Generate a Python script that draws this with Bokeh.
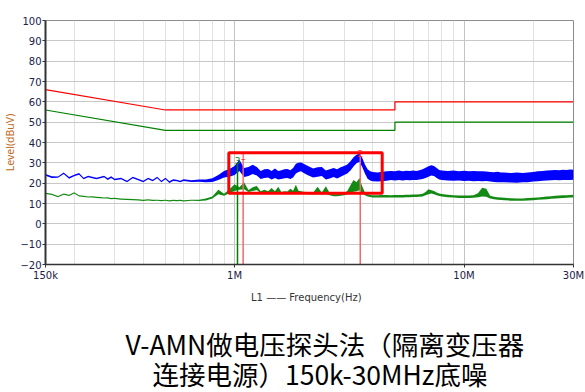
from bokeh.plotting import figure
from bokeh.models import FixedTicker, Title
from bokeh.embed import file_html
from bokeh.resources import INLINE
from bokeh.core.properties import value

# ---------------- data ----------------
freq_mhz = [0.15, 0.16, 0.17, 0.18, 0.19, 0.20, 0.21, 0.22, 0.23, 0.24, 0.25, 0.26, 0.27, 0.28, 0.29, 0.30,
            0.32, 0.34, 0.36, 0.38, 0.40, 0.42, 0.44, 0.46, 0.48, 0.50, 0.52, 0.54, 0.56, 0.58, 0.60,
            0.65, 0.70, 0.75, 0.80, 0.85, 0.90, 0.95,
            1.00, 1.05, 1.10, 1.15, 1.20, 1.25, 1.30, 1.35, 1.40, 1.45, 1.50, 1.55, 1.60, 1.65, 1.70, 1.75,
            1.80, 1.85, 1.90, 1.95, 2.00,
            2.1, 2.2, 2.3, 2.4, 2.5, 2.6, 2.7, 2.8, 2.9, 3.0, 3.1, 3.2, 3.3, 3.4, 3.5, 3.6, 3.7, 3.8, 3.9, 4.0,
            4.2, 4.4, 4.6, 4.8, 5.0, 5.2, 5.4, 5.6, 5.8, 6.0, 6.2, 6.4, 6.6, 6.8, 7.0, 7.2, 7.4, 7.6, 7.8, 8.0,
            8.5, 9.0, 9.5, 10, 10.5, 11, 11.5, 12, 12.5, 13, 13.5, 14, 14.5, 15,
            16, 17, 18, 19, 20, 21, 22, 23, 24, 25, 26, 27, 28, 29, 30]

blue_lo = [23.7, 22.6, 22.7, 24.5, 22.2, 23.4, 24.2, 21.9, 22.9, 22.4, 21.9, 22.4, 22.9, 21.6, 22.6, 21.4,
           21.9, 20.4, 22.4, 21.4, 20.4, 21.9, 20.9, 22.4, 20.4, 21.9, 20.1, 21.1, 20.9, 20.4, 21.1,
           20.6, 20.7, 20.4, 20.6, 21.5, 22.8, 23.2,
           24.0, 26.0, 23.0, 23.5, 24.5, 23.8, 22.0, 22.5, 22.8, 21.8, 22.6, 21.8, 22.0, 22.4, 22.6, 22.0,
           22.8, 24.8, 25.5, 25.8, 25.0,
           23.8, 22.8, 23.2, 23.5, 21.8, 22.3, 23.0, 22.3, 23.2, 24.0, 24.8, 26.2, 28.2, 29.8, 30.5, 28.0, 24.8, 22.2, 21.3, 21.0,
           20.8, 21.0, 21.2, 21.5, 21.3, 21.5, 21.3, 21.6, 21.4, 21.6, 21.5, 21.8, 22.0, 22.6, 23.2, 23.8, 23.5, 22.6, 21.8, 21.5,
           21.3, 21.2, 21.3, 21.1, 21.2, 21.0, 21.1, 21.0, 21.1, 20.8, 20.6, 20.5, 20.4, 20.5,
           20.3, 20.2, 20.4, 20.5, 20.8, 21.0, 21.2, 21.3, 21.4, 21.5, 21.4, 21.6, 21.5, 21.6, 21.7]

blue_hi = [24.5, 23.4, 23.3, 25.3, 23.0, 24.2, 25.0, 22.7, 23.7, 23.2, 22.7, 23.2, 23.7, 22.4, 23.4, 22.2,
           22.7, 21.2, 23.2, 22.2, 21.2, 22.7, 21.7, 23.2, 21.2, 22.7, 20.9, 21.9, 21.7, 21.2, 21.9,
           21.4, 21.8, 21.8, 22.4, 24.0, 26.0, 27.0,
           28.5, 31.5, 27.5, 28.0, 29.0, 28.0, 26.0, 26.8, 27.0, 26.0, 27.2, 26.0, 26.3, 26.8, 27.0, 26.3,
           27.5, 29.5, 30.0, 30.2, 29.5,
           28.3, 27.2, 27.8, 28.0, 26.2, 26.8, 27.5, 26.8, 27.8, 28.5, 29.2, 30.8, 32.8, 34.0, 34.5, 32.5, 29.2, 26.8, 25.8, 25.5,
           25.3, 25.6, 25.8, 26.0, 25.9, 26.2, 25.9, 26.1, 26.0, 26.2, 26.0, 26.3, 26.8, 27.6, 28.3, 28.8, 28.5, 27.5, 26.5, 26.2,
           26.0, 26.2, 25.9, 26.1, 25.8, 26.0, 25.9, 25.8, 25.7, 25.5, 25.4, 25.6, 25.2, 25.3,
           25.0, 25.2, 25.0, 25.3, 25.5, 25.8, 26.0, 26.2, 26.3, 26.5, 26.3, 26.6, 26.5, 26.7, 26.6]

green_lo = [14.7, 14.2, 13.1, 14.3, 13.7, 14.9, 13.5, 13.2, 12.9, 13.0, 12.7, 12.6, 12.4, 12.5, 12.1, 12.2,
            11.9, 11.7, 11.6, 11.5, 11.2, 11.5, 11.2, 11.3, 11.1, 11.3, 11.0, 11.2, 11.1, 11.2, 11.0,
            11.3, 11.2, 11.5, 12.4, 14.6, 13.8, 15.0,
            16.2, 16.8, 17.0, 15.6, 16.2, 16.6, 15.0, 15.6, 15.0, 15.6, 15.0, 15.8, 14.6, 15.0, 15.0, 15.5,
            15.2, 15.6, 15.2, 15.0, 14.8,
            14.5, 14.4, 14.6, 14.4, 14.6, 14.0, 13.6, 13.6, 13.8, 14.0, 14.6, 15.2, 15.8, 16.0, 16.5, 15.0, 14.0, 13.5, 13.2, 13.0,
            12.9, 12.9, 13.0, 12.9, 12.9, 13.0, 13.0, 13.1, 13.1, 13.2, 13.2, 13.3, 13.5, 14.0, 14.5, 14.9, 14.6, 14.1, 13.7, 13.5,
            13.1, 12.9, 12.7, 12.7, 12.7, 12.8, 13.1, 13.5, 13.3, 12.5, 12.1, 11.9, 11.7, 11.6,
            11.4, 11.3, 11.3, 11.5, 11.6, 11.8, 12.0, 12.1, 12.3, 12.5, 12.6, 12.7, 12.8, 12.9, 13.0]

green_hi = [15.3, 14.8, 13.7, 14.9, 14.3, 15.5, 14.1, 13.8, 13.5, 13.6, 13.3, 13.2, 13.0, 13.1, 12.7, 12.8,
            12.5, 12.3, 12.2, 12.1, 11.8, 12.1, 11.8, 11.9, 11.7, 11.9, 11.6, 11.8, 11.7, 11.8, 11.6,
            11.9, 11.9, 12.4, 13.4, 16.8, 14.8, 17.0,
            19.5, 18.0, 20.5, 16.6, 18.0, 18.6, 16.0, 16.8, 16.0, 17.6, 16.0, 18.2, 15.6, 16.0, 15.9, 17.2,
            16.3, 19.2, 16.3, 16.0, 15.8,
            15.5, 15.3, 18.2, 15.4, 18.5, 15.0, 14.6, 14.6, 14.8, 15.2, 16.2, 19.0, 21.5, 20.5, 22.5, 18.5, 15.4, 14.6, 14.2, 14.0,
            14.1, 14.2, 14.2, 14.1, 14.2, 14.2, 14.2, 14.3, 14.3, 14.4, 14.4, 14.5, 14.8, 15.6, 17.0, 16.5, 16.2, 15.4, 14.9, 14.7,
            14.3, 14.1, 13.9, 13.9, 13.9, 14.0, 15.0, 17.8, 17.2, 13.8, 13.3, 13.1, 12.9, 12.8,
            12.6, 12.5, 12.5, 12.7, 12.8, 13.0, 13.2, 13.4, 13.6, 13.8, 13.9, 14.0, 14.1, 14.2, 14.3]

limit_f_mhz = [0.15, 0.5, 5.0, 5.0, 30.0]
qp_limit = [66, 56, 56, 60, 60]
av_limit = [56, 46, 46, 50, 50]

mark_f_mhz = [1.09, 3.53, 1.03]
mark_level = [31.5, 33.0, 29.5]
mark_text = ["1", "2", "3"]
mark_color = ["#ff3030", "#ff3030", "#008000"]

box_f_mhz = [0.944, 4.4]
box_level = [15.0, 35.0]

y_ticks = [-20, -10, 0, 10, 20, 30, 40, 50, 60, 70, 80, 90, 100]
x_major_hz = [150e3, 1e6, 10e6, 30e6]
x_major_labels = ["150k", "1M", "10M", "30M"]
x_minor_hz = [200e3, 300e3, 400e3, 500e3, 600e3, 700e3, 800e3, 900e3,
              2e6, 3e6, 4e6, 5e6, 6e6, 7e6, 8e6, 9e6, 20e6]

title_line1 = "V-AMN做电压探头法（隔离变压器"
title_line2 = "连接电源）150k-30MHz底噪"

# ---------------- figure ----------------
hz = lambda seq: [f * 1e6 for f in seq]
f_hz = hz(freq_mhz)

p = figure(width=585, height=392, x_axis_type="log",
           x_range=(x_major_hz[0], x_major_hz[-1]), y_range=(y_ticks[0], y_ticks[-1]),
           output_backend="svg", toolbar_location=None,
           min_border_left=10, min_border_right=12, min_border_top=20, min_border_bottom=128)
p.background_fill_color = "white"
p.border_fill_color = "white"
p.outline_line_color = "#8c8c8c"
p.outline_line_width = 1

xt = FixedTicker(ticks=x_major_hz, minor_ticks=x_minor_hz)
p.xaxis.ticker = xt
p.xgrid.ticker = xt
p.xaxis.major_label_overrides = {v: s for v, s in zip(x_major_hz, x_major_labels)}
yt = FixedTicker(ticks=y_ticks)
p.yaxis.ticker = yt
p.ygrid.ticker = yt

p.xgrid.grid_line_color = "#c4c4c4"
p.xgrid.minor_grid_line_color = "#e2e2e2"
p.ygrid.grid_line_color = "#c8c8c8"

for ax in (p.xaxis[0], p.yaxis[0]):
    ax.axis_line_color = "#333333"
    ax.major_tick_line_color = "#333333"
    ax.major_tick_out = 3
    ax.major_tick_in = 0
    ax.minor_tick_line_color = None
    ax.major_label_text_font = "DejaVu Sans"
    ax.major_label_text_font_size = "10px"
    ax.major_label_text_color = "#20204a"
    ax.major_label_standoff = 1

p.yaxis.axis_line_width = 2
p.xaxis.axis_line_width = 1.5
p.yaxis.axis_label = "Level(dBuV)"
p.yaxis.axis_label_text_font = "Noto Sans"
p.yaxis.axis_label_text_font_size = "10.5px"
p.yaxis.axis_label_text_font_style = "normal"
p.yaxis.axis_label_text_color = "#c06a1e"
p.yaxis.axis_label_standoff = 0

p.xaxis.axis_label = "L1  ——  Frequency(Hz)"
p.xaxis.axis_label_text_font = "DejaVu Sans"
p.xaxis.axis_label_text_font_size = "10px"
p.xaxis.axis_label_text_font_style = "normal"
p.xaxis.axis_label_text_color = "#333333"
p.xaxis.axis_label_standoff = 8

# limits
lf = hz(limit_f_mhz)
p.line(lf, qp_limit, line_color="#ff0000", line_width=1.2)
p.line(lf, av_limit, line_color="#008000", line_width=1.2)

# traces
p.varea(x=f_hz, y1=green_lo, y2=green_hi, fill_color="#138a13")
p.varea(x=f_hz, y1=blue_lo, y2=blue_hi, fill_color="#0000ff")

# marker lines + labels
mf = hz(mark_f_mhz)
p.segment(x0=mf, y0=[y_ticks[0]] * 3, x1=mf, y1=mark_level,
          line_color=["#f06a6a", "#f06a6a", "#008000"], line_width=1.5)
p.text(x=mf, y=mark_level, text=mark_text, text_color=mark_color,
       text_font=value("DejaVu Sans"), text_font_size="9px",
       text_align="center", text_baseline="bottom")

# red highlight box
p.quad(left=[box_f_mhz[0] * 1e6], right=[box_f_mhz[1] * 1e6],
       bottom=[box_level[0]], top=[box_level[1]],
       fill_color=None, line_color="#ff0000", line_width=3)

# caption below: a small spacer, then the two caption lines
p.add_layout(Title(text=" ", align="center", standoff=3,
                   text_font="DejaVu Sans", text_font_size="10px"), "below")
p.add_layout(Title(text=title_line1, align="left", offset=80, standoff=0,
                   text_font="Noto Sans CJK SC", text_font_size="26.5px",
                   text_font_style="normal", text_color="black"), "below")
p.add_layout(Title(text=title_line2, align="left", offset=107, standoff=-22,
                   text_font="Noto Sans CJK SC", text_font_size="26.5px",
                   text_font_style="normal", text_color="black"), "below")

open("out.html", "w").write(file_html(p, INLINE))
